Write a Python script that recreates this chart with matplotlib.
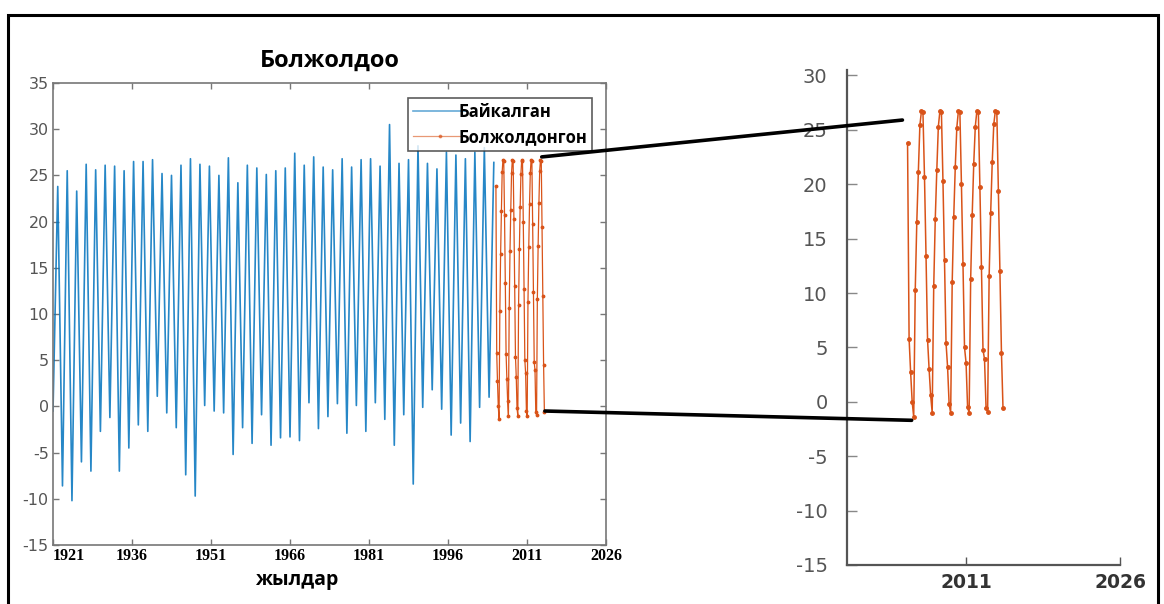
import numpy as np
import matplotlib
matplotlib.use("Agg")
import matplotlib.pyplot as plt
from matplotlib.patches import ConnectionPatch, Rectangle

plt.rcParams['font.family'] = ['Open Sans', 'DejaVu Sans']

obs_start = -0.5
obs_peaks = [23.8, 25.5, 23.3, 26.2, 25.6, 26.1, 26.0, 25.5, 26.5, 26.5,
             26.7, 25.2, 25.0, 26.1, 26.8, 26.2, 26.0, 25.0, 26.9, 24.2,
             26.1, 25.8, 25.1, 25.5, 25.8, 27.4, 26.1, 27.0, 25.9, 25.6,
             26.8, 25.9, 26.7, 26.8, 26.0, 30.5, 26.3, 26.7, 28.2, 26.3,
             25.7, 27.5, 27.2, 26.8, 27.5, 28.0, 26.4]
obs_lows = [-8.6, -10.2, -6.0, -7.0, -2.7, -1.2, -7.0, -4.5, -2.0, -2.7,
            1.1, -0.7, -2.3, -7.4, -9.7, 0.1, -0.5, -0.7, -5.2, -2.3,
            -4.0, -0.9, -4.2, -3.4, -3.3, -3.7, 0.4, -2.4, -1.1, 0.3,
            -2.9, 0.1, -2.7, 0.4, -1.4, -4.2, -0.9, -8.4, -0.1, 1.8,
            -0.3, -3.1, -1.8, -3.8, -0.1, 1.0]
obs_first, obs_last = 1921.0, 2004.7

# forecast series
fc = [23.8, 5.8, 2.7, 0.0,
      -1.4, 10.3, 16.5, 21.1, 25.4, 26.7, 26.6, 20.7, 13.4, 5.7, 3.0, 0.6,
      -1.0, 10.6, 16.8, 21.3, 25.3, 26.7, 26.6, 20.3, 13.0, 5.4, 3.2, -0.2,
      -1.0, 11.0, 17.0, 21.6, 25.2, 26.7, 26.6, 20.0, 12.7, 5.0, 3.6, -0.5,
      -1.0, 11.3, 17.2, 21.9, 25.3, 26.7, 26.6, 19.7, 12.4, 4.8, 3.9, -0.6,
      -0.9, 11.6, 17.4, 22.0, 25.5, 26.7, 26.6, 19.4, 12.0, 4.5, -0.6]
fc_first, fc_last = 2005.1, 2014.3
fc_first_r, fc_last_r = 2005.3, 2014.6   # the zoom panel is a separate, wider render

xticks_left = [1921, 1936, 1951, 1966, 1981, 1996, 2011, 2026]
xticks_right = [2011, 2026]
yticks_left = list(range(-15, 40, 5))
yticks_right = list(range(-15, 35, 5))

blue = '#0072BD'
orange = '#D95319'

obs = [obs_start]
for i in range(len(obs_lows)):
    obs += [obs_peaks[i], obs_lows[i]]
obs.append(obs_peaks[-1])
obs_x = np.linspace(obs_first, obs_last, len(obs))
fc_x = np.linspace(fc_first, fc_last, len(fc))
fc_xr = np.linspace(fc_first_r, fc_last_r, len(fc))

fig = plt.figure(figsize=(11.64, 6.04), dpi=100)

# outer frame
fig.patches.append(Rectangle((8 / 1164, -0.02), 1150 / 1164, 1 - 15 / 604 + 0.02,
                             transform=fig.transFigure, fill=False,
                             edgecolor='black', lw=2.2))

# ---- left panel (MATLAB look)
ax = fig.add_axes([53 / 1164, 1 - 545 / 604, 553 / 1164, 462 / 604])
ax.plot(obs_x, obs, color=blue, lw=1.2, alpha=0.85, label='Байкалган')
ax.plot(fc_x, fc, color=orange, lw=0.9, marker='.', ms=3.5, label='Болжолдонгон')
ax.set_xlim(1921, 2026)
ax.set_ylim(-15, 35)
ax.set_xticks(xticks_left)
ax.set_yticks(yticks_left)
ax.set_xticklabels([str(t) for t in xticks_left], family='Liberation Serif',
                   fontweight='bold', fontsize=11.5, color='black')
ax.get_xticklabels()[0].set_horizontalalignment('left')
ax.set_yticklabels([str(t) for t in yticks_left], fontsize=11.5, color='#555555',
                   family='DejaVu Sans')
ax.tick_params(direction='in', length=4, width=1, color='#777777',
               top=True, right=True, pad=3)
ax.tick_params(axis='x', pad=2)
for s in ax.spines.values():
    s.set_color('#777777')
    s.set_linewidth(1.2)
ax.set_title('Болжолдоо', fontsize=17, fontweight='bold', pad=12)
ax.set_xlabel('жылдар', fontsize=14, fontweight='bold')
ax.xaxis.set_label_coords(0.44, -0.055)
leg = ax.legend(loc='upper right', bbox_to_anchor=(0.975, 0.968),
                prop={'weight': 'bold', 'size': 12}, frameon=True, fancybox=False,
                borderpad=0.3, labelspacing=0.45, handlelength=3.2,
                handletextpad=-0.5, borderaxespad=0)
leg.get_frame().set_edgecolor('#333333')
leg.get_frame().set_linewidth(1.2)
for h in leg.get_lines():
    h.set_alpha(0.6)

# ---- right panel (zoomed)
axr = fig.add_axes([847 / 1164, 1 - 565 / 604, 273 / 1164, 495 / 604])
axr.plot(fc_xr, fc, color=orange, lw=1.1, marker='.', ms=5)
axr.set_xlim(1999.4, 2026)
axr.set_ylim(-15, 30.5)
axr.set_xticks(xticks_right)
axr.set_yticks(yticks_right)
axr.set_xticklabels([str(t) for t in xticks_right], fontsize=13.5,
                    fontweight='bold', color='#333333', family='DejaVu Sans')
axr.set_yticklabels([str(t) for t in yticks_right], fontsize=14,
                    color='#555555', family='DejaVu Sans')
axr.tick_params(axis='y', direction='in', length=7, width=1, color='#888888', pad=14)
axr.tick_params(axis='x', direction='in', length=6, width=1, color='#555555', pad=6)
axr.spines['top'].set_visible(False)
axr.spines['right'].set_visible(False)
for s in ['left', 'bottom']:
    axr.spines[s].set_color('#555555')
    axr.spines[s].set_linewidth(1.6)

# connector lines between the panels
for a, b in [((2013.8, 27.0), (2004.8, 25.9)), ((2014.4, -0.5), (2005.7, -1.7))]:
    cp = ConnectionPatch(xyA=a, coordsA=ax.transData, xyB=b, coordsB=axr.transData,
                         color='black', lw=2.6)
    fig.add_artist(cp)

fig.savefig('out.png', dpi=100)
